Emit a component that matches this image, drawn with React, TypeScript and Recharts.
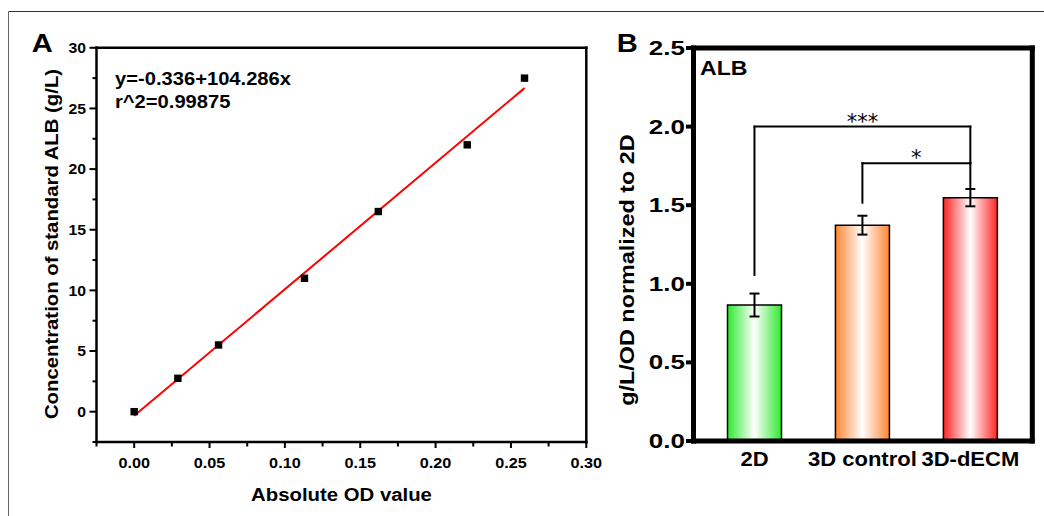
import React from 'react';
import { ScatterChart, Scatter, BarChart, Bar, Cell, ErrorBar, XAxis, YAxis, ReferenceLine } from 'recharts';

// panel A - ALB standard curve
const odValues = [0, 0.029, 0.056, 0.113, 0.162, 0.221, 0.259];
const albConc = [0, 2.75, 5.5, 11, 16.5, 22, 27.5];
// fitted line, its two ends
const fitOd = [0, 0.259];
const fitConc = [-0.336, 26.675];
const odTicks = [-0.025, 0, 0.025, 0.05, 0.075, 0.1, 0.125, 0.15, 0.175, 0.2, 0.225, 0.25, 0.275, 0.3];
const concTicks = [-2.5, 0, 2.5, 5, 7.5, 10, 12.5, 15, 17.5, 20, 22.5, 25, 27.5, 30];

// panel B - ALB normalized to 2D
const groups = ['2D', '3D control', '3D-dECM'];
const normalized = [0.865, 1.373, 1.548];
const normalizedSd = [0.073, 0.06, 0.055];
const normTicks = [0, 0.5, 1, 1.5, 2, 2.5];
// significance brackets
const sigFrom = ['2D', '3D control'];
const sigTo = ['3D-dECM', '3D-dECM'];
const sigLevel = [2.0, 1.767];
const sigFootFrom = [1.056, 1.516];
const sigFootTo = [1.609, 1.767];
const sigStars = ['***', '*'];

const barColors = ['#2ee82e', '#ff8533', '#ff2424'];

const standards = odValues.map((od, i) => ({ od, conc: albConc[i] }));
const fitLine = fitOd.map((od, i) => ({ od, conc: fitConc[i] }));
const albData = groups.map((group, i) => ({ group, value: normalized[i], sd: normalizedSd[i] }));

const ARIAL = '"Liberation Sans", Arial, sans-serif';

// origin-style text is a bit wider than arial, so stretch it
const Wide = ({ x, y, size, sx = 1.1, anchor = 'start', rotate = 0, children }: any) => (
  <text
    transform={`translate(${x},${y})${rotate ? ` rotate(${rotate})` : ''} scale(${sx},1)`}
    textAnchor={anchor}
    fontFamily={ARIAL}
    fontWeight="bold"
    fontSize={size}
    fill="#000"
  >
    {children}
  </text>
);

const isOn = (v: number, step: number) => Math.abs(v / step - Math.round(v / step)) < 1e-6;

const OdTick = (p: any) => {
  const v = p.payload.value;
  const major = isOn(v, 0.05);
  return (
    <g>
      <line x1={p.x} y1={p.y} x2={p.x} y2={p.y + (major ? 6 : 4.5)} stroke="#000" strokeWidth={2} />
      {major && <Wide x={p.x} y={p.y + 25.5} size={15} sx={1.08} anchor="middle">{v.toFixed(2)}</Wide>}
    </g>
  );
};

const ConcTick = (p: any) => {
  const v = p.payload.value;
  const major = isOn(v, 5);
  return (
    <g>
      <line x1={p.x} y1={p.y} x2={p.x - (major ? 7 : 4)} y2={p.y} stroke="#000" strokeWidth={2} />
      {major && <Wide x={p.x - 10.5} y={p.y + 5.3} size={15} sx={1.05} anchor="end">{v}</Wide>}
    </g>
  );
};

const NormTick = (p: any) => {
  const v = p.payload.value;
  return (
    <g>
      <line x1={p.x} y1={p.y} x2={p.x - 7.5} y2={p.y} stroke="#000" strokeWidth={4} />
      <Wide x={p.x - 8.5} y={p.y + 7} size={20} sx={1.3} anchor="end">{v.toFixed(1)}</Wide>
    </g>
  );
};

const GroupTick = (p: any) => (
  <Wide x={p.x} y={p.y + 24.5} size={20} anchor="middle">{p.payload.value}</Wide>
);

const Square = (p: any) => <rect x={p.cx - 3.7} y={p.cy - 3.7} width={7.4} height={7.4} fill="#000" />;

const thin = { stroke: '#000', strokeWidth: 2.5, strokeLinecap: 'square' };
const thick = { stroke: '#000', strokeWidth: 5, strokeLinecap: 'square' };

export default function App() {
  return (
    <div style={{ position: 'absolute', left: 0, top: 0, width: 1044, height: 516, overflow: 'hidden', background: '#fff' }}>
      <div style={{ position: 'absolute', left: 0, top: 0 }}>
        <ScatterChart width={640} height={516} margin={{ top: 46.8, right: 52.7, bottom: 73, left: 95.5 }}>
          <XAxis type="number" dataKey="od" domain={[-0.025, 0.3]} ticks={odTicks} interval={0}
            height={1} tickSize={0} tickMargin={0} tickLine={false} axisLine={thin} tick={OdTick} />
          <XAxis xAxisId="top" orientation="top" type="number" domain={[-0.025, 0.3]} ticks={odTicks}
            height={1} tick={false} tickLine={false} axisLine={thin} />
          <YAxis type="number" dataKey="conc" domain={[-2.5, 30]} ticks={concTicks} interval={0}
            width={1} tickSize={0} tickMargin={0} tickLine={false} axisLine={thin} tick={ConcTick} />
          <YAxis yAxisId="right" orientation="right" type="number" domain={[-2.5, 30]} ticks={concTicks}
            width={1} tick={false} tickLine={false} axisLine={thin} />
          <Scatter data={fitLine} line={{ stroke: '#ff0000', strokeWidth: 2 }} shape={() => <g />} isAnimationActive={false} />
          <Scatter data={standards} shape={Square} isAnimationActive={false} />
        </ScatterChart>
      </div>

      <div style={{ position: 'absolute', left: 600, top: 0 }}>
        <BarChart width={444} height={516} data={albData} margin={{ top: 47, right: 10.7, bottom: 74, left: 92.5 }}>
          <defs>
            {barColors.map((c, i) => (
              <linearGradient key={i} id={`albGrad${i}`} x1="0" y1="0" x2="1" y2="0">
                <stop offset="0%" stopColor={c} />
                <stop offset="50%" stopColor="#ffffff" />
                <stop offset="100%" stopColor={c} />
              </linearGradient>
            ))}
          </defs>
          <XAxis dataKey="group" padding={{ left: 7, right: 8 }} interval={0}
            height={1} tickSize={0} tickMargin={0} tickLine={false} axisLine={thick} tick={GroupTick} />
          <XAxis xAxisId="top" orientation="top" dataKey="group" padding={{ left: 7, right: 8 }}
            height={1} tick={false} tickLine={false} axisLine={thick} />
          <YAxis type="number" domain={[0, 2.5]} ticks={normTicks} interval={0}
            width={1} tickSize={0} tickMargin={0} tickLine={false} axisLine={thick} tick={NormTick} />
          <YAxis yAxisId="right" orientation="right" type="number" domain={[0, 2.5]} ticks={normTicks}
            width={1} tick={false} tickLine={false} axisLine={thick} />
          <Bar dataKey="value" barSize={54} stroke="#000" strokeWidth={1.5} isAnimationActive={false}>
            {albData.map((d, i) => <Cell key={d.group} fill={`url(#albGrad${i})`} />)}
            <ErrorBar dataKey="sd" width={5} strokeWidth={2} stroke="#000" isAnimationActive={false} />
          </Bar>
          {sigFrom.map((from, i) => [
            <ReferenceLine key={`l${i}`} segment={[{ x: from, y: sigFootFrom[i] }, { x: from, y: sigLevel[i] }]}
              stroke="#000" strokeWidth={2} strokeLinecap="square" />,
            <ReferenceLine key={`h${i}`} segment={[{ x: from, y: sigLevel[i] }, { x: sigTo[i], y: sigLevel[i] }]}
              stroke="#000" strokeWidth={2} strokeLinecap="square"
              label={{ value: sigStars[i], position: 'top', offset: -2, fontSize: 21, fontFamily: 'DejaVu Sans', fill: '#000' }} />,
            <ReferenceLine key={`r${i}`} segment={[{ x: sigTo[i], y: sigFootTo[i] }, { x: sigTo[i], y: sigLevel[i] }]}
              stroke="#000" strokeWidth={2} strokeLinecap="square" />,
          ])}
        </BarChart>
      </div>

      <svg width={1044} height={516} style={{ position: 'absolute', left: 0, top: 0, pointerEvents: 'none' }}>
        <line x1={8.5} y1={11.5} x2={1044} y2={11.5} stroke="#333" strokeWidth={1} />
        <line x1={8.5} y1={11.5} x2={8.5} y2={516} stroke="#666" strokeWidth={1} />
        <Wide x={31.7} y={51.7} size={26} sx={1.12}>A</Wide>
        <Wide x={616.7} y={51.7} size={26} sx={1.12}>B</Wide>
        <Wide x={115} y={85} size={18} sx={1.12}>y=-0.336+104.286x</Wide>
        <Wide x={115} y={108.3} size={18} sx={1.12}>r^2=0.99875</Wide>
        <Wide x={341.5} y={501} size={18.5} sx={1.1} anchor="middle">Absolute OD value</Wide>
        <Wide x={57.5} y={244} size={19} sx={1.07} anchor="middle" rotate={-90}>Concentration of standard ALB (g/L)</Wide>
        <Wide x={700} y={75} size={21} sx={1.1}>ALB</Wide>
        <Wide x={633.5} y={270} size={20} sx={1.17} anchor="middle" rotate={-90}>g/L/OD normalized to 2D</Wide>
      </svg>
    </div>
  );
}
